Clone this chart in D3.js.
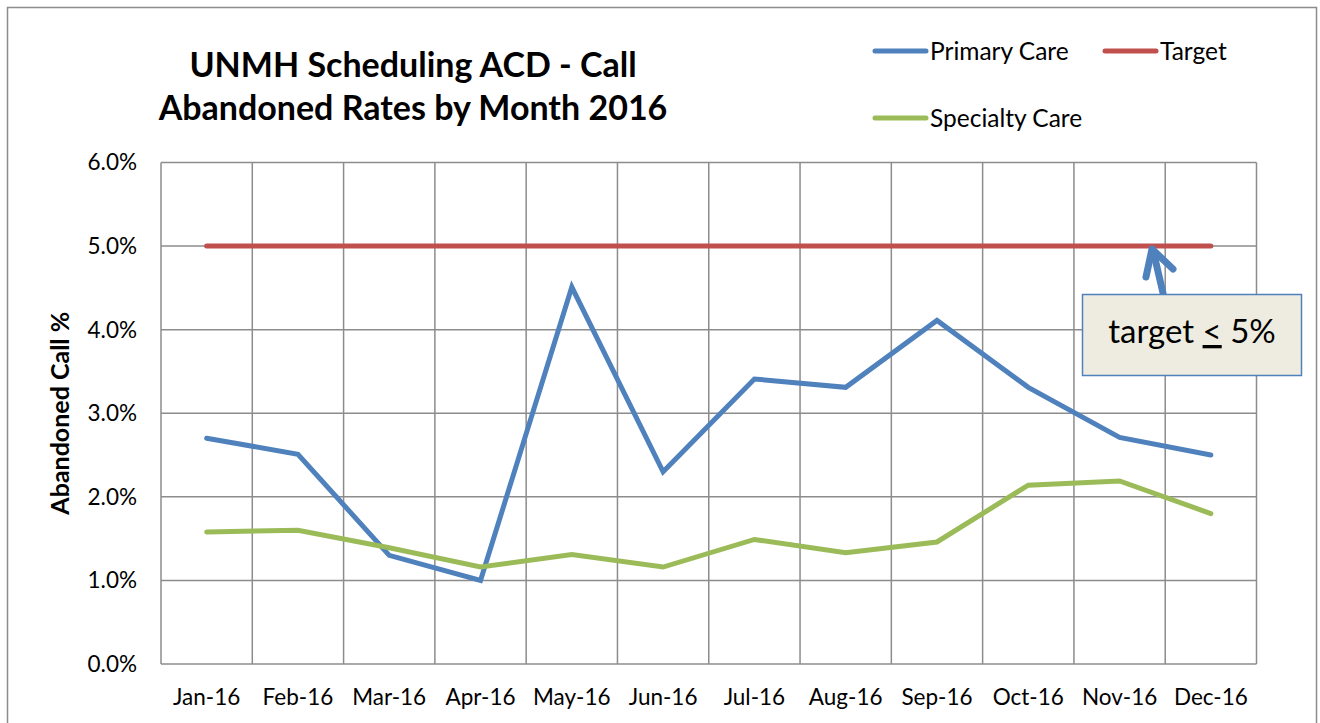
<!DOCTYPE html>
<meta charset="utf-8">
<script src="https://cdn.jsdelivr.net/npm/d3@7"></script>
<style>
  body { margin: 0; background: #fff; }
  text { font-family: Lato, "Open Sans", sans-serif; fill: #000; }
</style>
<body>
<div id="chart"></div>
<script>
  var months = ["Jan-16", "Feb-16", "Mar-16", "Apr-16", "May-16", "Jun-16",
                "Jul-16", "Aug-16", "Sep-16", "Oct-16", "Nov-16", "Dec-16"];
  var primaryCare = [2.7, 2.51, 1.3, 1.0, 4.51, 2.3, 3.41, 3.31, 4.11, 3.31, 2.71, 2.5];
  var specialtyCare = [1.58, 1.6, 1.39, 1.16, 1.31, 1.16, 1.49, 1.33, 1.46, 2.14, 2.19, 1.8];
  var target = [5, 5, 5, 5, 5, 5, 5, 5, 5, 5, 5, 5];
  var yTicks = [0, 1, 2, 3, 4, 5, 6];

  var series = [
    {name: "Primary Care", values: primaryCare, color: "#4F81BD"},
    {name: "Target", values: target, color: "#C0504D"},
    {name: "Specialty Care", values: specialtyCare, color: "#9BBB59"}
  ];

  var W = 1320, H = 723;
  var margin = {top: 162.5, right: 63.5, bottom: 59, left: 161};

  var svg = d3.select("#chart").append("svg")
      .attr("width", W).attr("height", H);

  // outer chart border
  svg.append("rect")
      .attr("x", 7.5).attr("y", 7.5)
      .attr("width", 1309).attr("height", 740)
      .style("fill", "none").style("stroke", "#8c8c8c").style("stroke-width", 1.5);

  var x = d3.scaleBand().domain(months)
      .range([margin.left, W - margin.right]);
  var y = d3.scaleLinear().domain([0, 6])
      .range([H - margin.bottom, margin.top]);

  var g = svg.append("g");

  // horizontal gridlines
  g.selectAll("line.hgrid").data(yTicks).enter().append("line")
      .attr("class", "hgrid")
      .attr("x1", x.range()[0]).attr("x2", x.range()[1])
      .attr("y1", function(d) { return y(d); })
      .attr("y2", function(d) { return y(d); })
      .style("stroke", "#8c8c8c").style("stroke-width", 1.5);

  // vertical gridlines (category boundaries)
  var bounds = months.map(function(m) { return x(m); }).concat([x.range()[1]]);
  g.selectAll("line.vgrid").data(bounds).enter().append("line")
      .attr("class", "vgrid")
      .attr("x1", function(d) { return d; }).attr("x2", function(d) { return d; })
      .attr("y1", y(6)).attr("y2", y(0))
      .style("stroke", "#8c8c8c").style("stroke-width", 1.5);

  // y tick labels
  g.selectAll("text.ytick").data(yTicks).enter().append("text")
      .attr("class", "ytick")
      .attr("x", margin.left - 24)
      .attr("y", function(d) { return y(d); })
      .attr("dy", "0.35em")
      .attr("text-anchor", "end")
      .style("font-size", "22.5px")
      .text(function(d) { return d.toFixed(1) + "%"; });

  // x tick labels
  g.selectAll("text.xtick").data(months).enter().append("text")
      .attr("class", "xtick")
      .attr("x", function(d) { return x(d) + x.bandwidth() / 2; })
      .attr("y", y(0) + 41)
      .attr("text-anchor", "middle")
      .style("font-size", "22.5px")
      .text(function(d) { return d; });

  // y axis title
  svg.append("text")
      .attr("transform", "translate(69," + ((y(0) + y(6)) / 2) + ")rotate(-90)")
      .attr("text-anchor", "middle")
      .style("font-size", "25px").style("font-weight", "bold")
      .text("Abandoned Call %");

  // title
  var title = svg.append("text")
      .attr("text-anchor", "middle")
      .style("font-size", "34px").style("font-weight", "bold");
  title.append("tspan").attr("x", 413).attr("y", 77).text("UNMH Scheduling ACD - Call");
  title.append("tspan").attr("x", 413).attr("y", 120).text("Abandoned Rates by Month 2016");

  // lines
  var line = d3.line()
      .x(function(d, i) { return x(months[i]) + x.bandwidth() / 2; })
      .y(function(d) { return y(d); });

  g.selectAll("path.series").data(series).enter().append("path")
      .attr("class", "series")
      .attr("d", function(d) { return line(d.values); })
      .style("fill", "none")
      .style("stroke", function(d) { return d.color; })
      .style("stroke-width", 5)
      .style("stroke-linejoin", "miter")
      .style("stroke-linecap", "round");

  // legend
  var legendPos = [[875, 51], [1105, 51], [875, 118]];
  var lg = svg.selectAll("g.legend").data(series).enter().append("g")
      .attr("class", "legend")
      .attr("transform", function(d, i) { return "translate(" + legendPos[i][0] + "," + legendPos[i][1] + ")"; });
  lg.append("line")
      .attr("x1", 0).attr("x2", 51)
      .style("stroke", function(d) { return d.color; })
      .style("stroke-width", 5).style("stroke-linecap", "round");
  lg.append("text")
      .attr("x", 55).attr("dy", "0.35em")
      .style("font-size", "24.5px")
      .text(function(d) { return d.name; });

  // annotation arrow
  var arrow = svg.append("g")
      .style("stroke", "#4F81BD").style("stroke-width", 7)
      .style("stroke-linecap", "round").style("stroke-linejoin", "round")
      .style("fill", "none");
  arrow.append("path").attr("d", "M1163,293 L1153,250");
  arrow.append("path").attr("d", "M1146,277 L1152,249 L1173,269");

  // callout box
  svg.append("rect")
      .attr("x", 1082.5).attr("y", 294.5)
      .attr("width", 219).attr("height", 81)
      .style("fill", "#EEECE1").style("stroke", "#4F81BD").style("stroke-width", 1.5);
  var call = svg.append("text")
      .attr("x", 1192).attr("y", 343)
      .attr("text-anchor", "middle")
      .style("font-size", "33px");
  call.append("tspan").text("target ");
  call.append("tspan").style("text-decoration", "underline").text("<");
  call.append("tspan").text(" 5%");
</script>
</body>
